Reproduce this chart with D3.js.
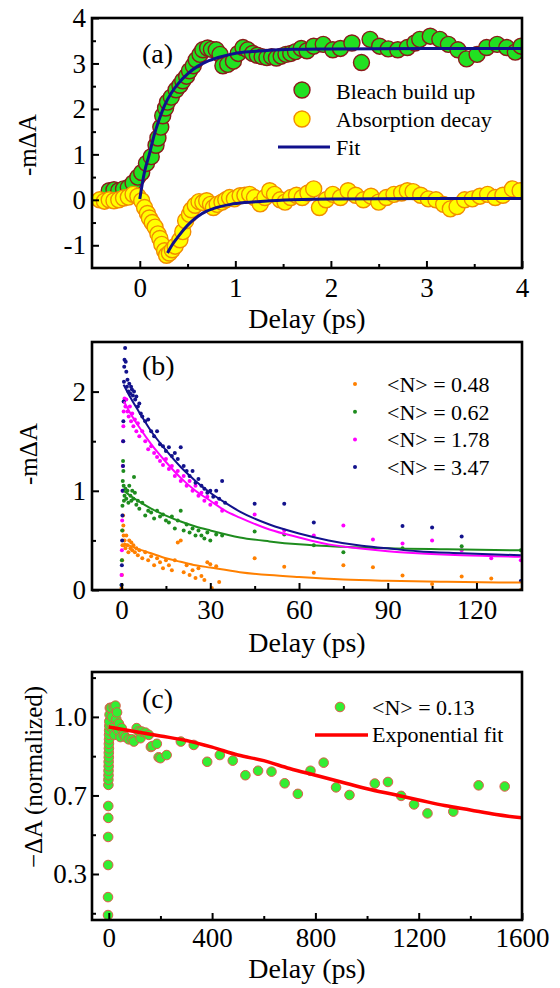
<!DOCTYPE html>
<html>
<head>
<meta charset="utf-8">
<script src="https://cdn.jsdelivr.net/npm/d3@7/dist/d3.min.js"></script>
<style>
  body { margin: 0; background: #fff; }
  svg { display: block; }
</style>
</head>
<body>
<svg width="560" height="988"></svg>
<script>
// ---------- panel (a): delay (ps), -mΔA ----------
const bleachData = [[-0.32,0.2],[-0.27,0.22],[-0.22,0.2],[-0.17,0.24],[-0.12,0.27],[-0.07,0.37],[-0.02,0.5],[0.02,0.6],[0.07,0.8],
  [0.12,0.95],[0.17,1.2],[0.19,1.36],[0.22,1.6],[0.24,1.85],[0.27,2.02],[0.29,2.15],[0.33,2.26],[0.38,2.42],[0.42,2.52],
  [0.45,2.62],[0.49,2.72],[0.52,2.84],[0.56,2.95],[0.59,3.08],[0.63,3.2],[0.66,3.3],[0.71,3.34],[0.75,3.31],[0.8,3.3],
  [0.84,3.2],[0.87,2.95],[0.92,2.98],[0.98,3.05],[1.03,3.22],[1.08,3.35],[1.13,3.3],[1.18,3.22],[1.23,3.18],[1.28,3.15],
  [1.33,3.13],[1.38,3.15],[1.43,3.12],[1.48,3.16],[1.53,3.2],[1.58,3.22],[1.63,3.26],[1.69,3.33],[1.75,3.28],[1.82,3.38],
  [1.92,3.42],[2.02,3.3],[2.1,3.33],[2.22,3.45],[2.32,3.02],[2.41,3.53],[2.51,3.38],[2.6,3.32],[2.7,3.3],[2.8,3.35],
  [2.88,3.45],[2.93,3.53],[3.04,3.6],[3.14,3.53],[3.23,3.42],[3.33,3.3],[3.42,3.1],[3.53,3.2],[3.63,3.35],[3.74,3.42],
  [3.84,3.35],[3.93,3.25],[3.99,3.38]];
const absorbData = [[-0.42,0.0],[-0.37,-0.03],[-0.32,0.0],[-0.27,-0.02],[-0.22,0.0],[-0.17,0.04],[-0.12,0.06],[-0.07,0.12],
  [-0.02,0.08],[0.02,-0.02],[0.05,-0.17],[0.08,-0.3],[0.1,-0.4],[0.13,-0.5],[0.16,-0.6],[0.19,-0.75],[0.21,-0.85],[0.23,-0.98],
  [0.26,-1.12],[0.28,-1.22],[0.31,-1.17],[0.34,-1.1],[0.37,-1.02],[0.42,-0.88],[0.45,-0.7],[0.48,-0.46],[0.52,-0.32],
  [0.54,-0.22],[0.58,-0.12],[0.62,-0.04],[0.66,-0.06],[0.7,-0.02],[0.74,-0.1],[0.77,-0.17],[0.81,-0.1],[0.86,-0.05],
  [0.9,0.0],[0.94,0.05],[0.99,0.02],[1.05,0.09],[1.1,0.1],[1.15,0.12],[1.2,0.05],[1.26,-0.09],[1.31,0.05],[1.36,0.2],
  [1.41,0.12],[1.47,0.0],[1.52,-0.05],[1.58,0.05],[1.64,0.1],[1.7,0.05],[1.76,0.15],[1.82,0.24],[1.88,-0.17],[1.95,0.0],
  [2.02,0.12],[2.1,0.05],[2.18,0.2],[2.26,0.1],[2.34,0.0],[2.42,0.08],[2.5,-0.05],[2.58,0.05],[2.66,0.12],[2.74,0.15],
  [2.8,0.2],[2.86,0.18],[2.94,0.1],[3.02,0.02],[3.1,0.0],[3.18,-0.1],[3.25,-0.2],[3.32,-0.15],[3.4,0.0],[3.48,0.02],
  [3.56,0.08],[3.64,0.12],[3.72,0.05],[3.8,0.1],[3.9,0.24],[3.98,0.2]];
const bleachFit = [[0,0.02],[0.05,0.62],[0.1,1.0],[0.15,1.42],[0.2,1.75],[0.26,2.08],[0.33,2.35],[0.4,2.55],[0.5,2.77],
  [0.6,2.93],[0.7,3.04],[0.82,3.13],[0.95,3.2],[1.1,3.25],[1.3,3.28],[1.6,3.31],[2.0,3.32],[3.0,3.33],[4.0,3.33]];
const absorbFit = [[0.29,-1.17],[0.33,-1.02],[0.37,-0.9],[0.42,-0.76],[0.47,-0.63],[0.54,-0.48],[0.61,-0.36],[0.7,-0.25],
  [0.82,-0.16],[0.95,-0.1],[1.1,-0.06],[1.3,-0.03],[1.6,0.0],[2.0,0.02],[3.0,0.03],[4.0,0.03]];
const legendA = ["Bleach build up", "Absorption decay", "Fit"];

// ---------- panel (b): four pump fluences ----------
const fluenceLabels = ["<N> = 0.48", "<N> = 0.62", "<N> = 1.78", "<N> = 3.47"];
const fluenceColors = ["#ff8000", "#1e8c1e", "#ff00ff", "#12128c"];
const dots048 = [[0,0.02],[0.1,0.15],[0.2,0.3],[0.3,0.45],[0.4,0.6],[0.5,0.75],[0.6,0.65],[0.7,0.55],[0.8,0.45],[1.0,0.5],
  [1.3,0.42],[1.6,0.55],[2.0,0.45],[2.3,0.38],[2.6,0.5],[3.0,0.42],[3.3,0.48],[3.6,0.4],[4,0.45],[4.5,0.38],[5,0.42],
  [5.5,0.35],[6,0.4],[7,0.32],[8,0.38],[9,0.3],[10,0.34],[11,0.25],[12,0.32],[13,0.28],[14,0.22],[15,0.3],[16,0.25],
  [17,0.2],[18,0.3],[19,0.48],[20,0.5],[21,0.18],[22,0.25],[23,0.15],[24,0.2],[25,0.12],[26,0.22],[27,0.14],[28,0.1],
  [29,0.28],[30,0.26],[30.5,0.02],[32,0.24],[33,0.08],[45,0.32],[55,0.235],[65,0.175],[75,0.25],[85,0.23],[95,0.145],
  [105,0.06],[115,0.135],[125,0.115],[135,0.0]];
const dots062 = [[0,0.05],[0.1,0.3],[0.2,0.6],[0.3,0.85],[0.4,1.1],[0.5,1.3],[0.6,1.2],[0.7,1.05],[0.8,0.9],[1.0,0.95],
  [1.3,1.02],[1.6,0.92],[2.0,1.0],[2.3,0.88],[2.6,1.05],[3.0,0.95],[3.3,0.9],[3.6,1.0],[4,0.92],[4.2,1.14],[4.5,0.98],
  [5,0.86],[5.5,0.9],[6,0.82],[7,0.88],[8,0.75],[9,0.8],[10,0.78],[11,0.72],[12,0.8],[13,0.74],[14,0.76],[15,0.7],
  [16,0.68],[17,0.74],[18,0.62],[19,0.7],[20,0.8],[21,0.6],[22,0.66],[23,0.58],[24,0.62],[25,0.55],[26,0.6],[27,0.55],
  [28,0.52],[29,0.58],[30,0.5],[32,0.56],[34,0.55],[45,0.59],[55,0.56],[65,0.45],[75,0.38],[95,0.42],[115,0.44],[135,0.4]];
const dots178 = [[0,0.15],[0.1,0.4],[0.2,0.7],[0.3,1.0],[0.4,1.25],[0.5,1.5],[0.6,1.65],[0.7,1.8],[0.8,1.9],[1.0,1.93],
  [1.3,1.85],[1.6,1.92],[2.0,1.8],[2.4,1.75],[2.8,1.85],[3.2,1.7],[3.6,1.78],[4.0,1.65],[4.5,1.72],[5,1.6],[5.5,1.68],
  [6,1.55],[7,1.6],[8,1.5],[9,1.42],[10,1.45],[11,1.38],[12,1.34],[13,1.3],[14,1.26],[15,1.32],[16,1.22],[17,1.25],
  [18,1.15],[19,1.2],[20,1.1],[21,1.15],[22,1.05],[23,1.1],[24,1.0],[25,1.05],[26,0.95],[27,0.98],[28,0.9],[29,0.94],
  [30,0.86],[32,0.88],[34,0.8],[45,0.76],[55,0.6],[65,0.55],[75,0.65],[85,0.51],[95,0.47],[105,0.5],[115,0.4],[125,0.32],
  [135,0.3]];
const dots347 = [[0,0.05],[0.1,0.25],[0.2,0.5],[0.3,0.75],[0.4,1.0],[0.5,1.25],[0.55,1.5],[0.6,1.7],[0.7,1.9],[0.8,2.1],
  [0.9,2.25],[1.0,2.32],[1.2,2.44],[1.4,2.3],[1.6,2.2],[1.8,2.05],[2.0,2.12],[2.3,2.0],[2.6,2.08],[2.9,1.98],[3.2,2.05],
  [3.5,2.02],[3.8,1.96],[4.2,2.0],[4.6,1.92],[5.0,1.95],[5.5,1.85],[6,1.88],[6.5,1.78],[7,1.75],[8,1.7],[9,1.72],[10,1.6],
  [11,1.55],[12,1.6],[13,1.47],[14,1.45],[15,1.4],[16,1.44],[17,1.35],[18,1.38],[19,1.32],[20,1.44],[21,1.25],[22,1.2],
  [23,1.15],[24,1.2],[25,1.08],[26,1.12],[27,1.05],[28,1.02],[29,0.98],[30,1.0],[31,0.94],[32,1.0],[33,0.92],[34,1.1],
  [35,0.88],[45,0.87],[55,0.87],[65,0.68],[95,0.645],[105,0.63],[115,0.54],[135,0.09]];
const fit048 = [[0.8,0.47],[5,0.42],[10,0.37],[15,0.32],[20,0.285],[25,0.25],[30,0.226],[40,0.18],[50,0.15],[60,0.13],
  [75,0.106],[90,0.093],[110,0.082],[135,0.075]];
const fit062 = [[0.8,1.0],[3,0.95],[6,0.89],[10,0.82],[15,0.75],[20,0.69],[25,0.64],[30,0.6],[40,0.53],[50,0.49],
  [60,0.46],[75,0.435],[90,0.42],[110,0.41],[135,0.4]];
const fit178 = [[0.8,1.9],[3,1.78],[6,1.64],[10,1.47],[15,1.29],[20,1.13],[25,1.0],[30,0.9],[35,0.8],[40,0.73],[50,0.61],
  [60,0.53],[70,0.46],[80,0.42],[90,0.39],[100,0.37],[115,0.35],[135,0.335]];
const fit347 = [[0.7,2.07],[3,1.94],[6,1.79],[10,1.6],[15,1.41],[20,1.24],[25,1.1],[30,0.98],[35,0.88],[40,0.79],[50,0.66],
  [60,0.57],[70,0.5],[80,0.45],[90,0.42],[100,0.39],[115,0.37],[135,0.35]];

// ---------- panel (c): <N> = 0.13, long delays ----------
const lowData = [[-3,0.167],[-3,0.247],[-2.5,0.39],[-2.5,0.515],[-2,0.6],[-2,0.653],[-1.5,0.747],[-1.5,0.77],[-1,0.79],
  [-1,0.81],[-0.5,0.83],[-0.5,0.85],[0,0.87],[0,0.89],[0.5,0.91],[0.5,0.93],[1,0.95],[1,0.97],[1.5,0.99],[2,1.01],[2,1.03],
  [3,1.06],[4,1.09],[8,1.09],[12,1.05],[15,1.0],[19,1.095],[22,0.97],[26,1.1],[29,1.04],[32,1.07],[36,0.99],[39,1.02],
  [45,0.96],[50,1.0],[58,0.97],[65,0.96],[77,0.95],[89,0.95],[97,0.94],[108,1.0],[115,0.985],[123,0.955],[127,0.985],
  [142,0.98],[155,0.97],[163,0.916],[168,0.92],[186,0.93],[193,0.87],[200,0.866],[224,0.88],[279,0.94],[329,0.925],
  [381,0.85],[430,0.88],[480,0.855],[529,0.79],[578,0.81],[630,0.806],[681,0.754],[732,0.707],[781,0.81],[832,0.846],
  [880,0.736],[932,0.702],[1030,0.753],[1081,0.76],[1132,0.698],[1182,0.66],[1234,0.62],[1334,0.628],[1432,0.745],
  [1533,0.74]];
const lowFit = [[0,1.005],[100,0.985],[200,0.965],[300,0.945],[400,0.915],[500,0.88],[600,0.855],[700,0.82],[800,0.79],
  [900,0.76],[1000,0.73],[1100,0.705],[1200,0.68],[1300,0.655],[1400,0.635],[1500,0.615],[1600,0.6]];
const legendC = ["<N> = 0.13", "Exponential fit"];
const yTicksC = [0.35, 0.70, 1.05];
const yTickLabelsC = ["0.3", "0.7", "1.0"];

// ---------- drawing ----------
const serif = "'Liberation Serif', 'Times New Roman', serif";
const svg = d3.select("svg");
const left = 92, right = 522;

function makePanel(id, top, bottom, xDom, yDom) {
  const x = d3.scaleLinear().domain(xDom).range([left, right]);
  const y = d3.scaleLinear().domain(yDom).range([bottom, top]);
  svg.append("clipPath").attr("id", id).append("rect")
    .attr("x", left).attr("y", top).attr("width", right - left).attr("height", bottom - top);
  const plot = svg.append("g").attr("clip-path", `url(#${id})`);
  return {x, y, top, bottom, plot};
}

function drawAxes(p, o) {
  const gs = [];
  gs.push(svg.append("g").attr("transform", `translate(0,${p.bottom})`)
    .call(d3.axisBottom(p.x).tickValues(o.xMajor).tickSize(-7).tickPadding(o.xPad).tickFormat(d => d)));
  gs.push(svg.append("g").attr("transform", `translate(0,${p.bottom})`)
    .call(d3.axisBottom(p.x).tickValues(o.xMinor).tickSize(-4).tickFormat("")));
  gs.push(svg.append("g").attr("transform", `translate(${left},0)`)
    .call(d3.axisLeft(p.y).tickValues(o.yMajor).tickSize(-7).tickPadding(o.yPad).tickFormat((d, i) => o.yLabels[i])));
  gs.push(svg.append("g").attr("transform", `translate(${left},0)`)
    .call(d3.axisLeft(p.y).tickValues(o.yMinor).tickSize(-4).tickFormat("")));
  gs.forEach(g => {
    g.select(".domain").remove();
    g.selectAll("line").attr("stroke", "#000").attr("stroke-width", 2);
    g.selectAll("text").attr("font-family", serif).attr("font-size", 27).attr("fill", "#000");
  });
  // frame
  svg.append("rect").attr("x", left).attr("y", p.top)
    .attr("width", right - left).attr("height", p.bottom - p.top)
    .attr("fill", "none").attr("stroke", "#000").attr("stroke-width", 2.6);
  // titles
  svg.append("text").attr("x", (left + right) / 2).attr("y", o.xTitleY)
    .attr("text-anchor", "middle").attr("font-family", serif).attr("font-size", 28).text("Delay (ps)");
  svg.append("text").attr("transform", `translate(${o.yTitleX},${o.yTitleMid}) rotate(-90)`)
    .attr("text-anchor", "middle").attr("font-family", serif).attr("font-size", 25).text(o.yTitle);
  svg.append("text").attr("x", 142).attr("y", o.tagY)
    .attr("font-family", serif).attr("font-size", 28).text(o.tag);
}

function fitLine(p, pts, color, width) {
  const line = d3.line().x(d => p.x(d[0])).y(d => p.y(d[1])).curve(d3.curveMonotoneX);
  p.plot.append("path").datum(pts).attr("d", line)
    .attr("fill", "none").attr("stroke", color).attr("stroke-width", width);
}

function circles(p, pts, r, fill, stroke, sw) {
  p.plot.append("g").selectAll("circle").data(pts).enter().append("circle")
    .attr("cx", d => p.x(d[0])).attr("cy", d => p.y(d[1])).attr("r", r)
    .attr("fill", fill).attr("stroke", stroke).attr("stroke-width", sw);
}

// panel (a)
const pa = makePanel("clipA", 18, 268, [-0.5, 4], [-1.5, 4]);
circles(pa, bleachData, 8, "#22e022", "#8b1a1a", 1.4);
circles(pa, absorbData, 8, "#ffff00", "#f28c00", 1.4);
fitLine(pa, bleachFit, "#10108c", 3);
fitLine(pa, absorbFit, "#10108c", 3);
drawAxes(pa, {
  xMajor: [0, 1, 2, 3, 4], xMinor: [0.5, 1.5, 2.5, 3.5], xPad: 10,
  yMajor: [-1, 0, 1, 2, 3, 4], yMinor: [-0.5, 0.5, 1.5, 2.5, 3.5],
  yLabels: ["-1", "0", "1", "2", "3", "4"], yPad: 6,
  xTitleY: 328, yTitleX: 36, yTitleMid: 145, yTitle: "-mΔA", tag: "(a)", tagY: 63
});
const legA = svg.append("g").attr("font-family", serif).attr("font-size", 22);
legA.append("circle").attr("cx", 302).attr("cy", 90).attr("r", 8)
  .attr("fill", "#22e022").attr("stroke", "#8b1a1a").attr("stroke-width", 1.4);
legA.append("circle").attr("cx", 302).attr("cy", 119).attr("r", 8)
  .attr("fill", "#ffff00").attr("stroke", "#f28c00").attr("stroke-width", 1.4);
legA.append("line").attr("x1", 278).attr("x2", 330).attr("y1", 147).attr("y2", 147)
  .attr("stroke", "#10108c").attr("stroke-width", 3);
legA.selectAll("text").data(legendA).enter().append("text")
  .attr("x", 336).attr("y", (d, i) => [99, 127, 155][i]).text(d => d);

// panel (b)
const pb = makePanel("clipB", 342, 590, [-10, 135.4], [0, 2.5]);
[dots048, dots062, dots178, dots347].forEach((s, i) => circles(pb, s, 2, fluenceColors[i], "none", 0));
[fit048, fit062, fit178, fit347].forEach((s, i) => fitLine(pb, s, fluenceColors[i], 2));
drawAxes(pb, {
  xMajor: [0, 30, 60, 90, 120], xMinor: [15, 45, 75, 105], xPad: 10,
  yMajor: [0, 1, 2], yMinor: [0.5, 1.5],
  yLabels: ["0", "1", "2"], yPad: 6,
  xTitleY: 652, yTitleX: 37, yTitleMid: 454, yTitle: "-mΔA", tag: "(b)", tagY: 375
});
const legB = svg.append("g").attr("font-family", serif).attr("font-size", 22);
fluenceLabels.forEach((lab, i) => {
  const by = 392 + i * 27.7;
  legB.append("circle").attr("cx", 355).attr("cy", by - 8).attr("r", 2).attr("fill", fluenceColors[i]);
  legB.append("text").attr("x", 387).attr("y", by).text(lab);
});

// panel (c)
const pc = makePanel("clipC", 672, 920, [-65, 1600], [0.145, 1.25]);
circles(pc, lowData, 4.8, "#33ee33", "#e05a4a", 1);
fitLine(pc, lowFit, "#ff0000", 3.5);
drawAxes(pc, {
  xMajor: [0, 400, 800, 1200, 1600], xMinor: [200, 600, 1000, 1400], xPad: 8,
  yMajor: yTicksC, yMinor: [0.175, 0.525, 0.875, 1.225],
  yLabels: yTickLabelsC, yPad: 5,
  xTitleY: 978, yTitleX: 42, yTitleMid: 777, yTitle: "\u2212ΔA (normalized)", tag: "(c)", tagY: 708
});
const legC = svg.append("g").attr("font-family", serif).attr("font-size", 22);
legC.append("circle").attr("cx", 340).attr("cy", 707).attr("r", 4.8)
  .attr("fill", "#33ee33").attr("stroke", "#e05a4a").attr("stroke-width", 1);
legC.append("line").attr("x1", 315).attr("x2", 368).attr("y1", 735).attr("y2", 735)
  .attr("stroke", "#ff0000").attr("stroke-width", 3.5);
legC.selectAll("text").data(legendC).enter().append("text")
  .attr("x", 372).attr("y", (d, i) => [715, 742][i]).text(d => d);
</script>
</body>
</html>
